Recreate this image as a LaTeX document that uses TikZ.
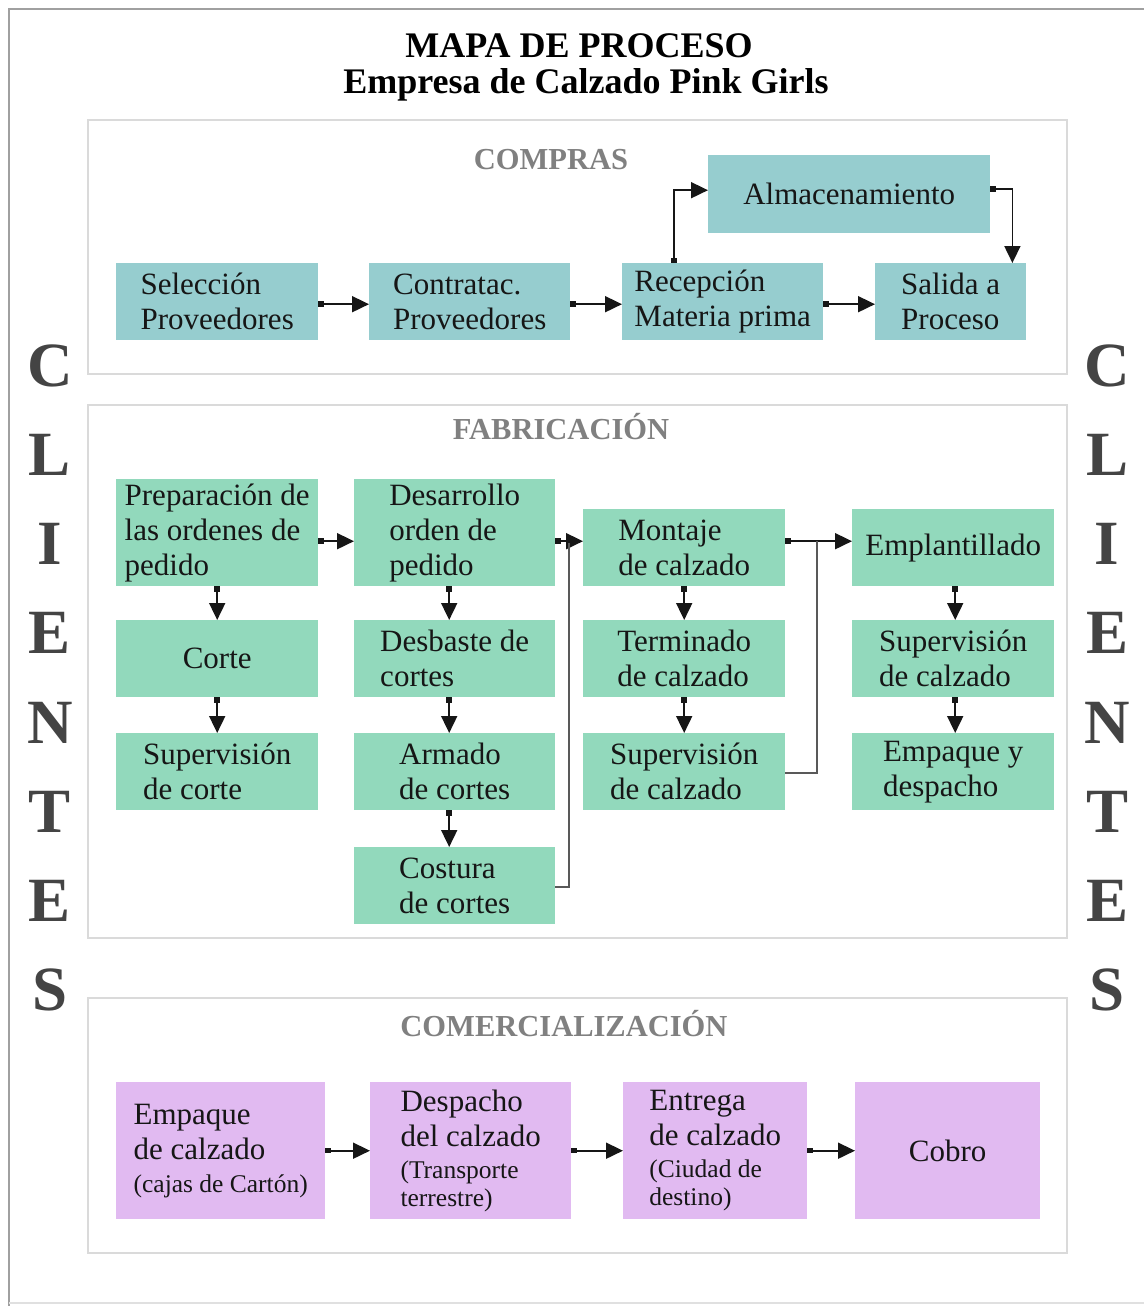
\documentclass[tikz,border=0pt]{standalone}
\usepackage{fontspec}
\setmainfont{Liberation Serif}
\usetikzlibrary{arrows.meta,calc}

\definecolor{compraFill}{RGB}{150,205,207}
\definecolor{fabFill}{RGB}{146,217,188}
\definecolor{comFill}{RGB}{225,186,241}
\definecolor{frameGray}{RGB}{160,160,160}
\definecolor{secGray}{RGB}{218,218,218}
\definecolor{labelGray}{RGB}{128,128,128}
\definecolor{clientGray}{RGB}{68,68,68}
\definecolor{inkDark}{RGB}{22,22,22}

\newcommand{\smalltxt}{\fontsize{25.5}{28}\selectfont}

\begin{document}
\begin{tikzpicture}[x=1pt,y=-1pt,
  proc/.style={anchor=north west, inner sep=0pt, align=left,
    font=\fontsize{31}{35}\selectfont, text=inkDark},
  compra/.style={proc, fill=compraFill},
  fab/.style={proc, fill=fabFill},
  com/.style={proc, fill=comFill},
  sectionbox/.style={draw=secGray, line width=1.6pt},
  seclabel/.style={font=\bfseries\fontsize{30.5}{35}\selectfont, text=labelGray},
  clientletter/.style={font=\bfseries\fontsize{63}{70}\selectfont, text=clientGray},
  flow/.style={line width=1.8pt, draw=inkDark,
    arrows={Square[length=5.5pt,width=5.5pt]-Triangle[length=17pt,width=16pt]}},
  joinline/.style={line width=1.6pt, draw=black!65}
]
\useasboundingbox (0,0) rectangle (1143,1306);

% outer frame
\draw[frameGray, line width=2.5pt] (9,1310) -- (9,9) -- (1150,9);
\draw[black!12, line width=1.5pt] (9,1303) -- (1150,1303);

% title
\node[font=\bfseries\fontsize{36}{40}\selectfont] (title1) at (579,46) {MAPA DE PROCESO};
\node[font=\bfseries\fontsize{36}{40}\selectfont] (title2) at (586,85) {Empresa de Calzado Pink Girls};

% CLIENTES on both sides
\foreach \ch [count=\i] in {C,L,I,E,N,T,E,S} {
  \node[clientletter] (cl\i) at (50,{366+(\i-1)*89.1}) {\ch};
  \node[clientletter] (cr\i) at (1107,{366+(\i-1)*89.1}) {\ch};
}

% ---------------- COMPRAS ----------------
\draw[sectionbox] (88,120) rectangle (1067,374);
\node[seclabel] (lblcompras) at (551,160) {COMPRAS};

\node[compra, minimum width=202pt, minimum height=77pt] (sel) at (116,263) {Selección\\Proveedores};
\node[compra, minimum width=201pt, minimum height=77pt] (con) at (369,263) {Contratac.\\Proveedores};
\node[compra, minimum width=201pt, minimum height=77pt] (rec) at (622,263) {Recepción\\Materia prima};
\node[compra, minimum width=151pt, minimum height=77pt] (sal) at (875,263) {Salida a\\Proceso};
\node[compra, minimum width=282pt, minimum height=78pt] (alm) at (708,155) {Almacenamiento};

\draw[flow] ([yshift=-2.5pt]sel.east) -- ([yshift=-2.5pt]con.west);
\draw[flow] ([yshift=-2.5pt]con.east) -- ([yshift=-2.5pt]rec.west);
\draw[flow] ([yshift=-2.5pt]rec.east) -- ([yshift=-2.5pt]sal.west);
\draw[flow] ([xshift=-48.5pt]rec.north) |- ([yshift=4pt]alm.west);
\draw[flow] ([yshift=5pt]alm.east) -| ([xshift=-14pt]sal.north east);

% ---------------- FABRICACIÓN ----------------
\draw[sectionbox] (88,405) rectangle (1067,938);
\node[seclabel] (lblfab) at (561,427) {FABRICACIÓN};

% column 1
\node[fab, minimum width=202pt, minimum height=107pt] (prep) at (116,479) {Preparación de\\las ordenes de\\pedido};
\node[fab, minimum width=202pt, minimum height=77pt] (corte) at (116,620) {Corte};
\node[fab, minimum width=202pt, minimum height=77pt] (supcorte) at (116,733) {Supervisión\\de corte};
% column 2
\node[fab, minimum width=201pt, minimum height=107pt] (des) at (354,479) {Desarrollo\\orden de\\pedido};
\node[fab, minimum width=201pt, minimum height=77pt] (desb) at (354,620) {Desbaste de\\cortes};
\node[fab, minimum width=201pt, minimum height=77pt] (arm) at (354,733) {Armado\\de cortes};
\node[fab, minimum width=201pt, minimum height=77pt] (cos) at (354,847) {Costura\\de cortes};
% column 3
\node[fab, minimum width=202pt, minimum height=77pt] (mon) at (583,509) {Montaje\\de calzado};
\node[fab, minimum width=202pt, minimum height=77pt] (ter) at (583,620) {Terminado\\de calzado};
\node[fab, minimum width=202pt, minimum height=77pt] (supcal) at (583,733) {Supervisión\\de calzado};
% column 4
\node[fab, minimum width=202pt, minimum height=77pt] (empl) at (852,509) {Emplantillado};
\node[fab, minimum width=202pt, minimum height=77pt] (supcal2) at (852,620) {Supervisión\\de calzado};
\node[fab, minimum width=202pt, minimum height=77pt] (empq) at (852,733) {Empaque y\\despacho};

% horizontal flow
\draw[flow] ([yshift=-8.5pt]prep.east) -- ([yshift=-8.5pt]des.west);
\draw[flow] ([yshift=-8.5pt]des.east) -- ([yshift=-8.5pt]des.east -| mon.west);
\draw[flow] ([yshift=6.5pt]mon.east) -- ([yshift=6.5pt]mon.east -| empl.west);
% vertical flow
\draw[flow] (prep.south) -- (corte.north);
\draw[flow] (corte.south) -- (supcorte.north);
\draw[flow] ([xshift=-5.5pt]des.south) -- ([xshift=-5.5pt]desb.north);
\draw[flow] ([xshift=-5.5pt]desb.south) -- ([xshift=-5.5pt]arm.north);
\draw[flow] ([xshift=-5.5pt]arm.south) -- ([xshift=-5.5pt]cos.north);
\draw[flow] (mon.south) -- (ter.north);
\draw[flow] (ter.south) -- (supcal.north);
\draw[flow] ([xshift=2pt]empl.south) -- ([xshift=2pt]supcal2.north);
\draw[flow] ([xshift=2pt]supcal2.south) -- ([xshift=2pt]empq.north);

% return lines joining the main flow
\coordinate (j1) at (569,543);
\coordinate (j2) at (817,541);
\draw[joinline] ([yshift=-1.5pt]cos.east) -| (j1);
\draw[joinline] ([yshift=-1.5pt]supcal.east) -| (j2);

% ---------------- COMERCIALIZACIÓN ----------------
\draw[sectionbox] (88,998) rectangle (1067,1253);
\node[seclabel] (lblcom) at (564,1024) {COMERCIALIZACIÓN};

\node[com, minimum width=209pt, minimum height=137pt] (emp) at (116,1082)
  {Empaque\\de calzado\\[-2pt]{\smalltxt(cajas de Cartón)}};
\node[com, minimum width=201pt, minimum height=137pt] (desp) at (370,1082)
  {Despacho\\del calzado\\[-3pt]{\smalltxt(Transporte}\\[-7pt]{\smalltxt terrestre)}};
\node[com, minimum width=184pt, minimum height=137pt] (ent) at (623,1082)
  {Entrega\\de calzado\\[-3pt]{\smalltxt(Ciudad de}\\[-7pt]{\smalltxt destino)}};
\node[com, minimum width=185pt, minimum height=137pt] (cob) at (855,1082) {Cobro};

\draw[flow] (emp.east) -- (desp.west);
\draw[flow] (desp.east) -- (ent.west);
\draw[flow] (ent.east) -- (cob.west);
\end{tikzpicture}
\end{document}
